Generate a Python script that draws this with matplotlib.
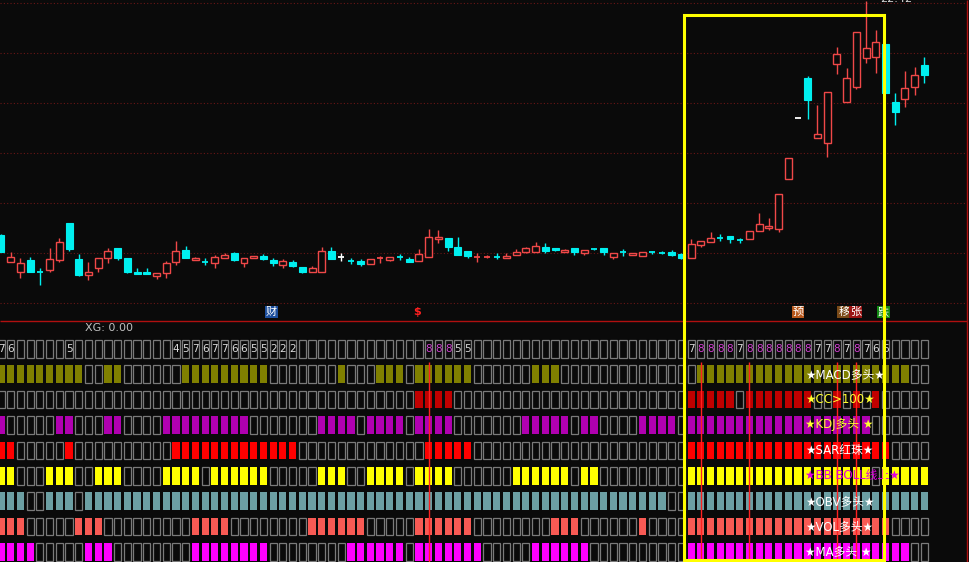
import numpy as np
import matplotlib
matplotlib.use("Agg")
import matplotlib.pyplot as plt
from matplotlib.patches import Rectangle
import matplotlib.transforms as mtransforms

plt.rcParams['font.family'] = ['DejaVu Sans', 'Noto Sans CJK SC']

# ---- daily candles (open, high, low, close) ----
opens = [10.70, 9.37, 8.87, 9.45, 8.84, 8.95, 9.45, 11.29, 9.50, 8.70,
         9.07, 9.54, 10.04, 9.57, 8.87, 8.87, 8.67, 8.79, 9.34, 9.95,
         9.44, 9.37, 9.29, 9.57, 9.79, 9.29, 9.54, 9.67, 9.45, 9.20,
         9.34, 9.12, 8.84, 8.87, 9.90, 9.59, 9.42, 9.40, 9.24, 9.53,
         9.47, 9.59, 9.49, 9.40, 9.62, 10.50, 10.57, 10.12, 9.90, 9.61,
         9.61, 9.62, 9.54, 9.70, 9.87, 9.87, 10.12, 10.04, 9.87, 10.04,
         9.79, 10.00, 10.04, 9.62, 9.84, 9.70, 9.67, 9.84, 9.82, 9.87,
         9.74, 9.57, 10.20, 10.37, 10.54, 10.65, 10.45, 10.52, 10.90, 11.05,
         11.00, 13.49, 16.57, 18.54, 15.54, 15.29, 19.24, 17.37, 18.12, 19.54,
         19.62, 20.25, 17.34, 17.49, 18.09, 19.20]
highs = [10.75, 9.87, 9.54, 9.62, 9.04, 10.04, 10.57, 11.29, 9.74, 9.34,
         9.57, 10.04, 10.04, 9.57, 9.07, 9.07, 8.79, 9.40, 10.40, 10.15,
         9.62, 9.54, 9.70, 9.79, 9.84, 9.57, 9.65, 9.74, 9.54, 9.50,
         9.45, 9.12, 9.17, 10.12, 10.12, 9.79, 9.57, 9.50, 9.49, 9.67,
         9.60, 9.74, 9.62, 10.00, 11.00, 10.95, 10.57, 10.58, 9.90, 9.79,
         9.70, 9.79, 9.79, 10.00, 10.12, 10.37, 10.29, 10.04, 9.98, 10.04,
         9.95, 10.05, 10.04, 9.80, 10.00, 9.82, 9.85, 9.92, 9.90, 9.95,
         9.79, 10.50, 10.42, 10.84, 10.74, 10.65, 10.54, 10.90, 11.79, 11.54,
         12.74, 14.54, 16.57, 18.65, 17.20, 17.84, 20.12, 19.04, 20.87, 22.42,
         20.95, 20.25, 17.79, 18.90, 19.12, 19.62]
lows = [9.85, 9.37, 8.54, 8.83, 8.20, 8.84, 9.34, 9.90, 8.67, 8.45,
        8.84, 9.29, 9.45, 8.79, 8.77, 8.74, 8.50, 8.57, 9.20, 9.54,
        9.44, 9.20, 9.07, 9.57, 9.42, 9.12, 9.54, 9.45, 9.17, 9.07,
        9.12, 8.79, 8.84, 8.87, 9.50, 9.40, 9.24, 9.17, 9.24, 9.29,
        9.40, 9.45, 9.34, 9.40, 9.62, 10.29, 9.90, 9.70, 9.53, 9.37,
        9.54, 9.50, 9.54, 9.70, 9.79, 9.87, 9.79, 9.90, 9.87, 9.70,
        9.70, 9.94, 9.70, 9.50, 9.67, 9.70, 9.67, 9.75, 9.74, 9.67,
        9.50, 9.57, 10.09, 10.37, 10.40, 10.29, 10.29, 10.52, 10.90, 10.95,
        10.87, 13.49, 16.57, 16.50, 15.54, 14.62, 18.75, 17.37, 18.00, 19.32,
        18.82, 17.82, 16.20, 17.09, 17.70, 18.32]
closes = [9.87, 9.62, 9.29, 8.84, 8.83, 9.50, 10.34, 9.99, 8.70, 8.84,
          9.54, 9.90, 9.57, 8.87, 8.77, 8.77, 8.79, 9.29, 9.90, 9.54,
          9.54, 9.36, 9.62, 9.70, 9.45, 9.57, 9.64, 9.50, 9.29, 9.40,
          9.17, 8.87, 9.07, 9.90, 9.50, 9.59, 9.41, 9.24, 9.49, 9.54,
          9.60, 9.58, 9.34, 9.74, 10.58, 10.60, 10.12, 9.72, 9.66, 9.62,
          9.62, 9.61, 9.67, 9.87, 10.04, 10.15, 9.90, 9.94, 9.95, 9.84,
          9.95, 9.99, 9.87, 9.80, 9.83, 9.82, 9.85, 9.83, 9.81, 9.70,
          9.57, 10.24, 10.42, 10.54, 10.53, 10.52, 10.44, 10.90, 11.24, 11.15,
          12.74, 14.54, 16.57, 17.45, 15.74, 17.84, 19.75, 18.54, 20.87, 20.04,
          20.34, 17.82, 16.87, 18.04, 18.69, 18.70]

# ---- signal rows: bars where each condition holds ----
macd_on = [*range(0, 9), 11, 12, *range(19, 28), 35, *range(39, 42), *range(43, 49),
           *range(55, 58), *range(72, 94)]
cci_on = [*range(43, 47), *range(71, 76), *range(77, 84), 86, 88, 90]
kdj_on = [0, 6, 7, 11, 12, *range(17, 26), *range(33, 37), *range(38, 42), *range(43, 47),
          *range(54, 59), 60, 61, *range(66, 70), *range(71, 90)]
sar_on = [0, 1, 7, *range(18, 31), *range(44, 49), *range(71, 92)]
boll_on = [0, 1, 5, 6, 7, 10, 11, 12, *range(17, 21), *range(22, 28), *range(33, 36),
           *range(38, 42), *range(43, 47), *range(53, 59), 60, 61, *range(71, 90), *range(91, 96)]
obv_on = [0, 1, 2, 5, 6, 7, *range(9, 69), *range(71, 96)]
vol_on = [0, 1, 2, 8, 9, 10, *range(20, 24), *range(32, 38), *range(43, 49), *range(57, 60),
          66, *range(71, 92)]
ma_on = [0, 1, 2, 3, 9, 10, 11, *range(20, 28), *range(36, 42), *range(43, 50),
         *range(55, 61), *range(71, 94)]

row_labels = ['★MACD多头★', '★CC>100★', '★KDJ多头 ★', '★SAR红珠★',
              '★BB BOLL线上★', '★OBV多头★', '★VOL多头★', '★MA多头 ★']
row_colors = ['#808000', '#c00000', '#b000b0', '#ff0000',
              '#ffff00', '#6c9fa3', '#f85a54', '#ff00ff']
label_colors = ['white', '#ffff30', '#ffff30', 'white',
                '#e000e0', 'white', 'white', 'white']

# event tags under the candles
tag_x = [27.8, 42.8, 82.0, 86.7, 87.9, 90.8]
tag_text = ['财', '$', '预', '移', '张', '跌']
tag_bg = ['#1d4f9e', None, '#b8581c', '#7a4a18', '#9a1414', '#148a14']
tag_fg = ['white', '#ff2020', 'white', 'white', 'white', 'white']

bg = '#0a0a0a'
red = '#f04848'
cyan = '#00f0f0'
W, H = 969, 562
split = 320
n = len(opens)
xlim = (-1 / 9.72, (W - 1) / 9.72)

fig = plt.figure(figsize=(W / 100, H / 100), dpi=100, facecolor=bg)
ax = fig.add_axes([0, 1 - split / H, 1, split / H])
axb = fig.add_axes([0, 0, 1, 1 - split / H])
for a in (ax, axb):
    a.set_xlim(*xlim)
    a.axis('off')
ax.set_ylim(22.45 - split / 20, 22.45)
axb.set_ylim(H, split)

# dotted grid in price panel
grid_levels = 22.45 - (2.7 + 50 * np.arange(7)) / 20
ax.hlines(grid_levels, xlim[0], (966 - 1) / 9.72, colors='#6a1616', lw=0.8,
          linestyles=(0, (1, 2)), zorder=1)

# candles
bw = 0.72
for i in range(n):
    o, h, l, c = opens[i], highs[i], lows[i], closes[i]
    col = red if c > o else (cyan if c < o else 'white')
    top, bot = max(o, c), min(o, c)
    if h > top:
        ax.vlines(i, top, h, color=col, lw=1, zorder=3)
    if l < bot:
        ax.vlines(i, l, bot, color=col, lw=1, zorder=3)
    if abs(c - o) < 0.04:
        ax.hlines((o + c) / 2, i - bw / 2 + 0.05, i + bw / 2 - 0.05, color=col, lw=1.3, zorder=4)
    elif c > o:
        ax.add_patch(Rectangle((i - bw / 2, o), bw, c - o, facecolor=bg,
                               edgecolor=col, lw=1, zorder=4))
    else:
        ax.add_patch(Rectangle((i - bw / 2, c), bw, o - c, facecolor=col,
                               edgecolor=col, lw=0.8, zorder=4))

imax = int(np.argmax(highs))
ax.text(imax + 1.45, 22.50, f'{highs[imax]:.2f}', color='#d8d8d8', fontsize=8,
        ha='left', va='center', clip_on=False)

# tags
trans = mtransforms.blended_transform_factory(ax.transData, ax.transAxes)
for x, t, b, f in zip(tag_x, tag_text, tag_bg, tag_fg):
    kw = dict(color=f, fontsize=8, ha='center', va='center', transform=trans, zorder=5)
    if b is not None:
        kw['bbox'] = dict(boxstyle='square,pad=0.08', facecolor=b, edgecolor='none')
    else:
        kw['fontweight'] = 'bold'
    ax.text(x, 0.025, t, **kw)

# signal grid
rows = [macd_on, cci_on, kdj_on, sar_on, boll_on, obv_on, vol_on, ma_on]
mask = np.zeros((len(rows), n), bool)
for r, idx in enumerate(rows):
    mask[r, idx] = True
count = mask.sum(axis=0)

row_top = 340 + 25.4 * np.arange(9)
ch = 17.5
cw = 0.74
grey = '#7a7a7a'
for i in range(n):
    axb.add_patch(Rectangle((i - cw / 2, row_top[0]), cw, ch, fill=False,
                            edgecolor=grey, lw=0.9))
    if mask[3, i]:
        axb.text(i, row_top[0] + ch / 2 + 0.5, str(count[i]), fontsize=7.5,
                 color='#d040d0' if count[i] == 8 else '#dcdcdc',
                 ha='center', va='center')
    for r in range(len(rows)):
        y0 = row_top[r + 1]
        if mask[r, i]:
            axb.add_patch(Rectangle((i - cw / 2, y0), cw, ch, facecolor=row_colors[r],
                                    edgecolor='none'))
        else:
            axb.add_patch(Rectangle((i - cw / 2, y0), cw, ch, fill=False,
                                    edgecolor=grey, lw=0.9))

# red markers where all eight conditions switch on
full = np.where((count == 8) & (np.r_[0, count[:-1]] != 8))[0]
axb.vlines(full, 362, H, colors='#ff2020', lw=1, zorder=5)

for r, (lab, lc) in enumerate(zip(row_labels, label_colors)):
    axb.text(82.75, row_top[r + 1] + ch / 2, lab, color=lc, fontsize=8.5,
             ha='left', va='center', zorder=6)

# frame lines, yellow highlight box and formula text
ov = fig.add_axes([0, 0, 1, 1])
ov.set_xlim(0, W)
ov.set_ylim(H, 0)
ov.axis('off')
ov.hlines(320.5, 0, 967.5, color='#b01010', lw=1)
ov.vlines(967.5, 0, H, color='#b01010', lw=1)
ov.text(85, 328, 'XG: 0.00', color='#c0c0c0', fontsize=8, va='center', ha='left')
ov.add_patch(Rectangle((684, 14.5), 200, 545, fill=False, edgecolor='#ffff00', lw=2.2,
                       zorder=10))

fig.savefig('out.png', dpi=100, facecolor=bg)
